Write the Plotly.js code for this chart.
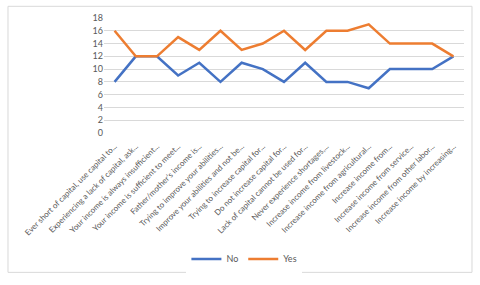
<!DOCTYPE html>
<html><head><meta charset="utf-8">
<script src="https://cdn.plot.ly/plotly-3.0.1.min.js"></script>
<style>html,body{margin:0;padding:0;background:#fff}#c{width:480px;height:285px}</style>
</head><body><div id="c"></div>
<script>
const categories = [
  "Ever short of capital, use capital to...",
  "Experiencing a lack of capital, ask...",
  "Your income is always insufficient...",
  "Your income is sufficient to meet...",
  "Father/mother's income is...",
  "Trying to improve your abilities...",
  "Improve your abilities and not be...",
  "Trying to increase capital for...",
  "Do not increase capital for...",
  "Lack of capital cannot be used for...",
  "Never experience shortages,...",
  "Increase income from livestock...",
  "Increase income from agricultural...",
  "Increase income from...",
  "Increase income from service...",
  "Increase income from other labor...",
  "Increase income by increasing..."
];
const noValues  = [8,12,12,9,11,8,11,10,8,11,8,8,7,10,10,10,12];
const yesValues = [16,12,12,15,13,16,13,14,16,13,16,16,17,14,14,14,12];
const yTicks = [0,2,4,6,8,10,12,14,16,18];

const font = "Lato, 'Open Sans', sans-serif";
const data = [
  {x: categories, y: noValues, name: "No", type: "scatter", mode: "lines",
   line: {color: "#4472C4", width: 2.5}},
  {x: categories, y: yesValues, name: "Yes", type: "scatter", mode: "lines",
   line: {color: "#ED7D31", width: 2.5}}
];
const layout = {
  width: 480, height: 285,
  margin: {l: 104, r: 16, t: 18, b: 149},
  paper_bgcolor: "#fff", plot_bgcolor: "#fff",
  font: {family: font, size: 8, color: "#595959"},
  showlegend: true,
  legend: {orientation: "h", x: 0.39, xanchor: "center", y: -1.095, yanchor: "middle",
           font: {family: font, size: 9, color: "#595959"}, itemwidth: 30, tracegroupgap: 0},
  xaxis: {type: "category", range: [-0.5, 16.5], tickangle: -45, showgrid: false,
          zeroline: false, showline: false, ticks: "", ticklabelstandoff: 6,
          tickfont: {family: font, size: 8, color: "#595959"}, automargin: false},
  yaxis: {range: [0, 18], tickvals: yTicks, ticktext: yTicks.map(String), showgrid: true,
          gridcolor: "#d9d9d9", gridwidth: 1, zeroline: false, showline: false, ticks: "",
          ticklen: 0, tickfont: {family: font, size: 9, color: "#595959"}, automargin: false},
  shapes: [{type: "rect", xref: "paper", yref: "paper", x0: -0.2667, x1: 1.0222, y0: -1.2119, y1: 1.1017,
            line: {color: "#d9d9d9", width: 1}, fillcolor: "rgba(0,0,0,0)", layer: "below"}]
};
Plotly.newPlot("c", data, layout, {staticPlot: true, displayModeBar: false});
</script></body></html>
